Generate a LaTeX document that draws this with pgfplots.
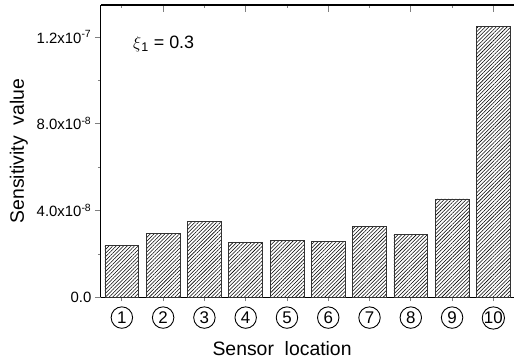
\documentclass[border=0pt]{standalone}
\usepackage{pgfplots}
\pgfplotsset{compat=1.18}
\usepackage{fontspec}
\setmainfont{Liberation Sans}
\usetikzlibrary{patterns.meta}
\pgfplotsset{common/.style={
  scale only axis,
  width=414bp, height=293bp,
  xmin=0.49, xmax=10.5,
  axis line style={line width=1.2pt},
}}
\begin{document}
\begin{tikzpicture}
\begin{axis}[
  common,
  name=main,
  ymin=0, ymax=1.347e-7,
  axis x line*=bottom, axis y line*=left,
  tick align=outside,
  xtick={1,...,10},
  xticklabels={1,2,3,4,5,6,7,8,9,10},
  xticklabel style={font=\fontsize{17}{17}\selectfont, circle, draw, line width=0.9pt,
    minimum size=21.5bp, inner sep=0pt, anchor=north, yshift=-5bp},
  x tick style={line width=0.8pt},
  major tick length=4bp,
  ytick=\empty,
  xlabel={Sensor\ \ location},
  xlabel style={font=\fontsize{19.5}{19.5}\selectfont, at={(axis description cs:0.4387,0)}, anchor=base, yshift=-58bp},
]
\addplot[ybar, bar width=0.82, draw=black!80, line width=0.7pt,
  pattern={Lines[angle=45, distance=2.6pt, line width=0.55pt]}, pattern color=black]
  coordinates {
  (1,2.38e-8) (2,2.94e-8) (3,3.49e-8) (4,2.54e-8) (5,2.63e-8)
  (6,2.56e-8) (7,3.26e-8) (8,2.90e-8) (9,4.54e-8) (10,1.25e-7)
  };
\node[anchor=base west, font=\fontsize{18}{18}\selectfont] at (axis description cs:0.070,0.85) {$\xi$\textsubscript{1} = 0.3};
\end{axis}
\begin{axis}[
  common,
  at={(main.south west)}, anchor=south west,
  ymin=0, ymax=1.347e-7,
  axis x line=none, axis y line*=left,
  tick align=outside,
  ytick={0,4e-8,8e-8,1.2e-7},
  yticklabels={0.0,4.0x10\textsuperscript{-8},8.0x10\textsuperscript{-8},1.2x10\textsuperscript{-7}},
  minor ytick={2e-8,6e-8,10e-8},
  scaled y ticks=false,
  yticklabel style={font=\fontsize{15}{15}\selectfont},
  y tick style={line width=0.8pt},
  major tick length=6bp, minor tick length=3bp,
  ylabel={Sensitivity\ \ value},
  ylabel style={font=\fontsize{19.5}{19.5}\selectfont, at={(axis description cs:-0.186,0.5)}, anchor=base},
]
\end{axis}
\begin{axis}[
  common,
  at={(main.south west)}, anchor=south west,
  ymin=0, ymax=1,
  axis x line*=top, axis y line=none,
  tick align=inside,
  xtick={2,4,6,8,10},
  minor xtick={1,3,5,7,9},
  xticklabels={},
  x tick style={line width=0.8pt},
  major tick length=7bp, minor tick length=3.5bp,
]
\end{axis}
\pgfresetboundingbox
\path[use as bounding box] ([xshift=-101bp,yshift=-65bp]main.south west) rectangle ([yshift=5bp]main.north east);
\end{tikzpicture}
\end{document}
